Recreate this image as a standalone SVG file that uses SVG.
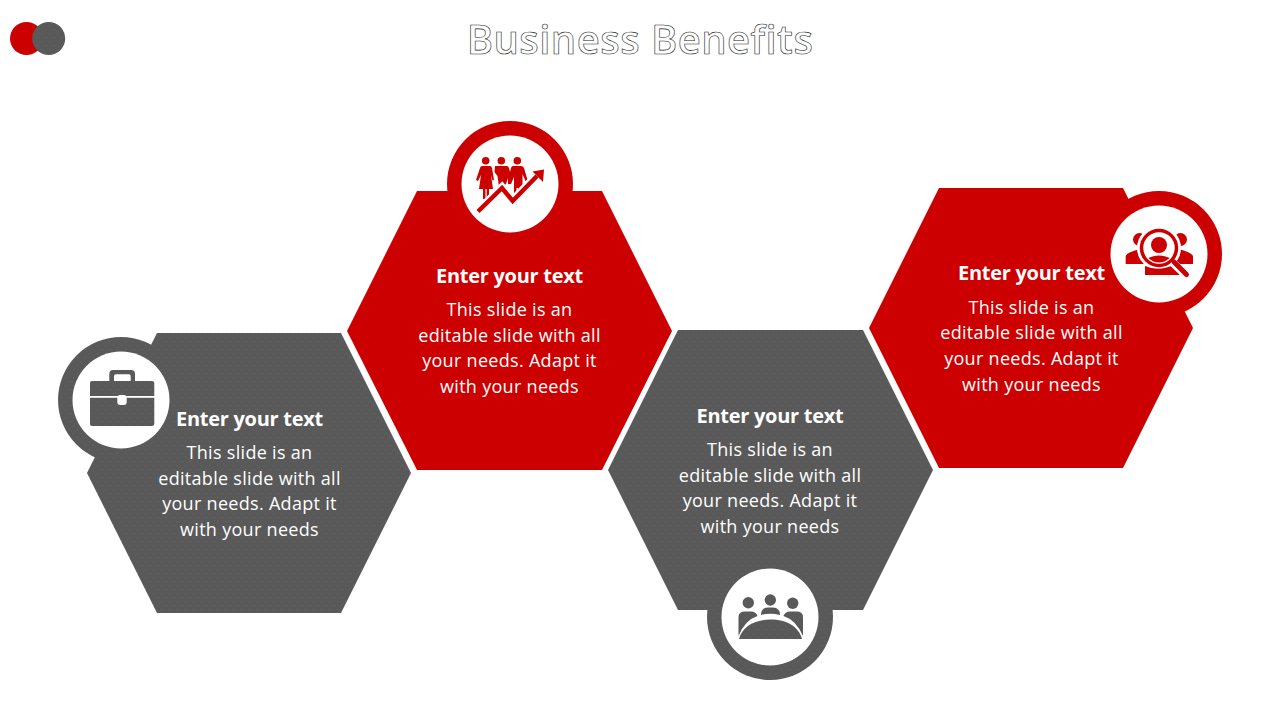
<svg xmlns="http://www.w3.org/2000/svg" width="1280" height="720" viewBox="0 0 1280 720">
<style>
.red{fill:#cc0000}
.grey{fill:url(#dots)}
.wh{fill:#fff}
.head{font:700 20px "Open Sans",sans-serif;letter-spacing:-.27px;fill:#fff;text-anchor:middle}
.body{font:400 18px "Open Sans",sans-serif;letter-spacing:.3px;fill:#fff;text-anchor:middle}
.title{font:600 40px "Open Sans",sans-serif;letter-spacing:.45px;fill:#fff;stroke:#202020;stroke-width:.6;text-anchor:middle;opacity:.99}
</style>
<defs>
<pattern id="dots" width="8" height="8" patternUnits="userSpaceOnUse">
<rect width="8" height="8" fill="#595959"/><rect x="1" y="1" width="1" height="1" fill="#676767"/><rect x="5" y="5" width="1" height="1" fill="#676767"/>
</pattern>
<clipPath id="lens"><circle cx="1159" cy="248" r="14.500"/></clipPath>
</defs>
<rect width="1280" height="720" fill="#fff"/>
<g id="logo"><circle class="red" cx="26.500" cy="38.500" r="16.500"/><circle class="grey" cx="48.700" cy="38.500" r="16.500"/></g>
<text id="title" class="title" x="640" y="54">Business Benefits</text>

<g id="node-1">
<polygon class="grey" points="157,333 341,333 411,473 341,613 157,613 87,473"/>
<circle class="grey" cx="121" cy="400" r="63"/>
<circle class="wh" cx="121" cy="400" r="48.500"/>
<path class="grey" fill-rule="evenodd" d="M90,383 Q90,381 92,381 H109.300 V374 Q109.300,370 113,370 H131 Q135,370 135,374 V381 H152 Q154.300,381 154.300,383 V424 Q154.300,426 152,426 H92 Q90,426 90,424 Z M114,381 H130.700 V376 Q130.700,374.300 129,374.300 H116 Q114,374.300 114,376 Z"/>
<rect class="wh" x="90" y="396" width="65" height="1.800"/>
<rect class="wh" x="117.300" y="395" width="9.400" height="10" rx="3"/>
<text class="head" x="249.500" y="426">Enter your text</text>
<text class="body" x="249.500" y="459">This slide is an</text>
<text class="body" x="249.500" y="485">editable slide with all</text>
<text class="body" x="249.500" y="510">your needs. Adapt it</text>
<text class="body" x="249.500" y="536">with your needs</text>
</g>

<g id="node-2">
<polygon class="red" points="417,191 602,191 672,331 602,470 417,470 347,331"/>
<circle class="red" cx="510" cy="184" r="63"/>
<circle class="wh" cx="510" cy="184" r="48.500"/>
<g class="red">
<circle cx="485.700" cy="160.700" r="3.800"/><circle cx="501.300" cy="160.700" r="3.800"/><circle cx="517.300" cy="160.700" r="3.800"/>
<path d="M482,166 H490 Q491.500,166 492,168 L494,180 L492.500,180.500 L491,175 L493,189 H489 V199 H486.700 V189 H485.500 V199 H483 V189 H479 L481,175 L478,181 L476,180 L480,168 Q480.500,166 482,166 Z"/>
<path d="M495,166 H507 Q508,166 509,168 L510,172 L511,168 Q511.500,166 513,166 H521 Q523,166 524,168 L527.500,180 L525.500,181 L522.500,174 V190 L521.500,198 H518 V188 H516.500 V192 L514,194 V177 L511,184 L508,184 V178 L506,184 L503,186 V192 L499,187 L497.500,176 L494.500,172 Z"/>
<polyline points="478,211.500 502,188 512.700,201 536,177" fill="none" stroke="#fff" stroke-width="9"/>
<polyline points="478,211.500 502,188 512.700,201 537,176" fill="none" stroke="#cc0000" stroke-width="4.500"/>
<polygon points="544,169.500 532.500,171.500 543,182"/>
</g>
<text class="head" x="509.500" y="283">Enter your text</text>
<text class="body" x="509.500" y="316">This slide is an</text>
<text class="body" x="509.500" y="342">editable slide with all</text>
<text class="body" x="509.500" y="367">your needs. Adapt it</text>
<text class="body" x="509.500" y="393">with your needs</text>
</g>

<g id="node-3">
<polygon class="grey" points="678,330 863,330 933,470 863,610 678,610 608,470"/>
<circle class="grey" cx="770" cy="617" r="63"/>
<circle class="wh" cx="770" cy="617" r="48.500"/>
<g class="grey">
<circle class="grey" cx="748.300" cy="602.700" r="5.700"/><circle class="grey" cx="770.300" cy="600" r="5.700"/><circle class="grey" cx="792.700" cy="603.300" r="5.700"/>
<path class="grey" d="M738.500,636 V617 Q738.500,611.500 745,611.500 H751 Q756,611.500 757.500,616 Q745,620 738.500,636 Z"/>
<path class="grey" d="M761,615 Q761,607.500 768,607.500 H773 Q780,607.500 780,615 Q770,612.500 761,615 Z"/>
<path class="grey" d="M803,636 V617 Q803,611.500 796.500,611.500 H790 Q785,611.500 783.500,616 Q796,620 803,636 Z"/>
<path class="grey" d="M739,639 C742,627 754,619.500 770.500,619.500 C787,619.500 799,627 802,639 Z"/>
</g>
<text class="head" x="770" y="423">Enter your text</text>
<text class="body" x="770" y="456">This slide is an</text>
<text class="body" x="770" y="482">editable slide with all</text>
<text class="body" x="770" y="507">your needs. Adapt it</text>
<text class="body" x="770" y="533">with your needs</text>
</g>

<g id="node-4">
<polygon class="red" points="939,188 1123,188 1193,328 1123,468 939,468 869,328"/>
<circle class="red" cx="1159" cy="254" r="63"/>
<circle class="wh" cx="1159" cy="254" r="48.500"/>
<g class="red">
<circle cx="1139.500" cy="239.500" r="6.500"/><circle cx="1180.500" cy="239.500" r="6.500"/>
<path d="M1125.700,264 V256 Q1127,252 1141,249 L1146,264 Z"/>
<path d="M1193,264 V256 Q1191,252 1178,249 L1172,264 Z"/>
<circle cx="1159" cy="248" r="22" fill="#fff"/>
<path d="M1145,275 V266 Q1159,272 1173,265 L1180,275 Z"/>
<circle cx="1159" cy="248" r="17.500" fill="none" stroke="#cc0000" stroke-width="3.500"/>
<circle cx="1159" cy="245" r="8"/>
<ellipse cx="1159" cy="268" rx="17" ry="12.500" clip-path="url(#lens)"/>
<path d="M1172,262 L1187,276" stroke="#fff" stroke-width="8"/>
<path d="M1174,262 L1186.500,274.500" stroke="#cc0000" stroke-width="5" stroke-linecap="round"/>
</g>
<text class="head" x="1031.500" y="280">Enter your text</text>
<text class="body" x="1031.500" y="314">This slide is an</text>
<text class="body" x="1031.500" y="339">editable slide with all</text>
<text class="body" x="1031.500" y="365">your needs. Adapt it</text>
<text class="body" x="1031.500" y="391">with your needs</text>
</g>
</svg>
